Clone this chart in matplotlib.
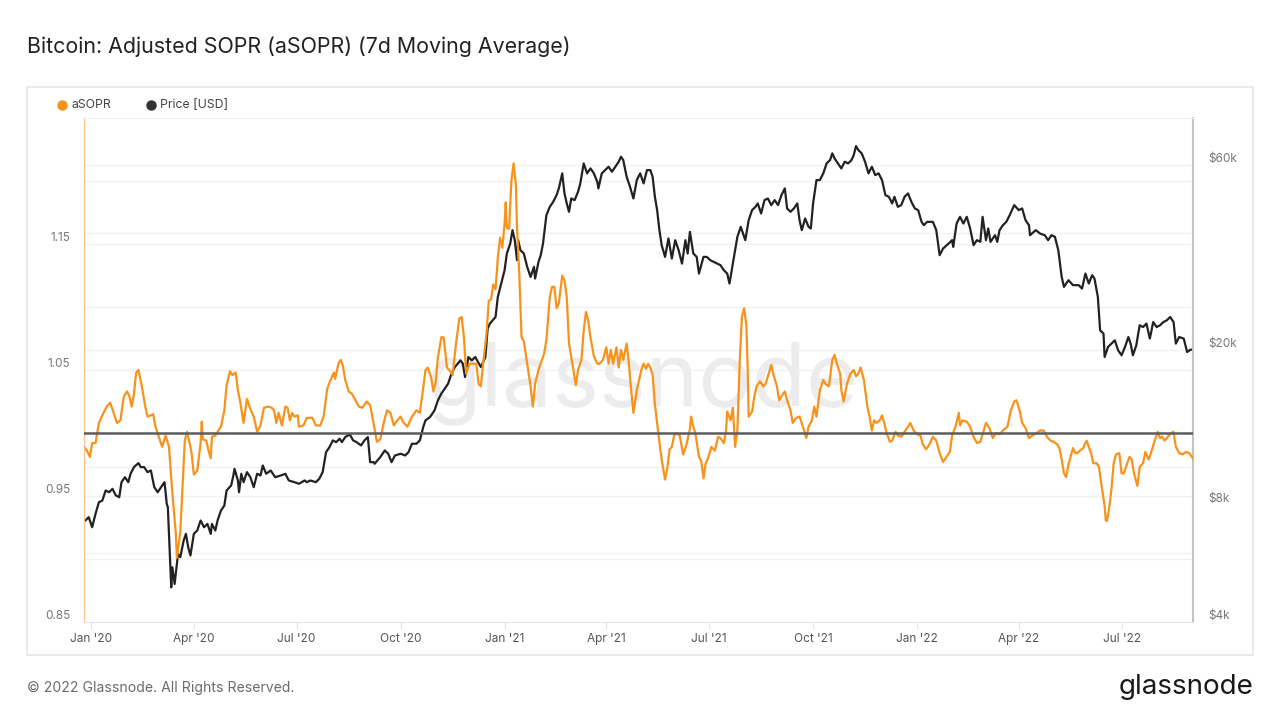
import numpy as np
import pandas as pd
import matplotlib
matplotlib.use("Agg")
import matplotlib.pyplot as plt
from matplotlib.transforms import blended_transform_factory, offset_copy
from matplotlib.ticker import NullLocator
from matplotlib.patches import Rectangle
from matplotlib.lines import Line2D

plt.rcParams['font.family'] = ['Inter', 'DejaVu Sans']

# ---------------- data ----------------
BASE_DATE = "2020-01-01"

# aSOPR (7d MA): day offset from BASE_DATE, value
sopr_day = [-6, -3, -1, 1, 4, 7, 10, 14, 17, 20, 23, 26, 29, 32, 34, 36, 38, 40, 42, 45, 48, 50, 53, 55, 57, 60,
            63, 66, 69, 72, 75, 76, 79, 81, 83, 85, 88, 89, 91, 94, 97, 98, 99, 102, 104, 106, 107, 110, 112, 115,
            118, 120, 123, 125, 128, 130, 132, 135, 138, 141, 144, 147, 150, 153, 157, 160, 162, 164, 166, 169, 172,
            174, 176, 178, 180, 183, 184, 188, 191, 196, 199, 203, 206, 209, 212, 215, 216, 219, 221, 223, 225, 228,
            231, 234, 237, 240, 244, 247, 250, 253, 256, 259, 262, 265, 268, 271, 274, 276, 280, 284, 288, 291, 293,
            296, 298, 301, 303, 305, 307, 310, 312, 315, 318, 320, 323, 326, 328, 330, 332, 335, 338, 341, 343, 345,
            347, 350, 352, 354, 356, 358, 360, 362, 364, 366, 367, 368, 370, 372, 374, 376, 377, 379, 381, 383, 386,
            389, 391, 393, 396, 399, 401, 403, 406, 408, 410, 412, 414, 417, 419, 421, 423, 426, 429, 431, 434, 436,
            438, 440, 442, 445, 448, 450, 453, 456, 458, 460, 462, 465, 467, 469, 471, 474, 476, 478, 480, 483, 487,
            489, 491, 493, 495, 497, 499, 502, 505, 508, 510, 512, 514, 516, 518, 521, 524, 527, 530, 531, 533, 535,
            538, 540, 542, 544, 546, 549, 552, 555, 557, 560, 562, 563, 566, 568, 570, 572, 574, 576, 578, 580, 581,
            582, 585, 587, 589, 592, 595, 597, 599, 602, 604, 607, 609, 611, 614, 616, 619, 621, 624, 627, 630, 633,
            635, 638, 640, 642, 645, 648, 650, 653, 656, 658, 660, 663, 664, 666, 669, 672, 675, 677, 679, 681, 684,
            687, 689, 691, 693, 695, 698, 700, 702, 704, 707, 709, 712, 714, 717, 720, 723, 725, 728, 731, 734, 736,
            739, 742, 745, 748, 751, 754, 757, 760, 762, 765, 768, 769, 771, 775, 778, 781, 784, 787, 790, 792, 795,
            798, 801, 804, 807, 811, 814, 817, 819, 822, 824, 827, 830, 833, 835, 840, 843, 846, 849, 852, 855, 857,
            859, 861, 863, 865, 869, 871, 873, 875, 878, 881, 883, 885, 887, 890, 892, 894, 897, 898, 899, 901, 903,
            905, 907, 910, 912, 914, 917, 919, 921, 923, 926, 928, 931, 933, 936, 939, 941, 944, 946, 948, 950, 953,
            956, 958, 960, 963, 966, 969, 972, 975]
sopr_value = [0.989, 0.985, 0.981, 0.992, 0.992, 1.008, 1.014, 1.021, 1.024, 1.016, 1.008, 1.010, 1.029, 1.033, 1.029,
              1.021, 1.031, 1.048, 1.050, 1.037, 1.021, 1.013, 1.014, 1.015, 1.005, 0.997, 0.989, 0.998, 0.989, 0.952,
              0.921, 0.901, 0.921, 0.958, 0.994, 1.001, 0.989, 0.984, 0.967, 0.970, 0.992, 1.009, 0.995, 0.994, 0.986,
              0.980, 0.997, 0.998, 1.001, 1.005, 1.018, 1.038, 1.049, 1.046, 1.048, 1.034, 1.025, 1.008, 1.027, 1.019,
              1.013, 1.001, 1.006, 1.020, 1.021, 1.020, 1.018, 1.008, 1.016, 1.006, 1.021, 1.020, 1.010, 1.016, 1.013,
              1.014, 1.005, 1.006, 1.012, 1.012, 1.006, 1.006, 1.014, 1.035, 1.042, 1.048, 1.043, 1.055, 1.058, 1.053,
              1.042, 1.033, 1.031, 1.026, 1.021, 1.020, 1.025, 1.022, 1.008, 0.993, 0.995, 1.008, 1.018, 1.016, 1.006,
              1.010, 1.013, 1.009, 1.005, 1.013, 1.018, 1.016, 1.029, 1.050, 1.052, 1.044, 1.033, 1.040, 1.060, 1.076,
              1.076, 1.052, 1.049, 1.046, 1.071, 1.091, 1.092, 1.076, 1.047, 1.055, 1.055, 1.055, 1.039, 1.037, 1.055,
              1.079, 1.105, 1.106, 1.118, 1.114, 1.139, 1.155, 1.147, 1.166, 1.183, 1.163, 1.162, 1.200, 1.214, 1.197,
              1.163, 1.126, 1.076, 1.073, 1.055, 1.037, 1.021, 1.039, 1.050, 1.058, 1.063, 1.074, 1.108, 1.116, 1.116,
              1.099, 1.103, 1.125, 1.121, 1.108, 1.071, 1.055, 1.038, 1.050, 1.058, 1.081, 1.096, 1.089, 1.076, 1.061,
              1.055, 1.055, 1.058, 1.068, 1.055, 1.066, 1.055, 1.068, 1.052, 1.066, 1.058, 1.071, 1.055, 1.034, 1.016,
              1.034, 1.050, 1.055, 1.051, 1.055, 1.052, 1.046, 1.023, 1.000, 0.979, 0.963, 0.972, 0.987, 0.989, 0.998,
              1.000, 0.998, 0.983, 0.991, 1.003, 1.013, 1.005, 0.999, 0.981, 0.978, 0.964, 0.976, 0.980, 0.989, 0.986,
              0.997, 0.996, 0.992, 1.002, 1.017, 1.010, 1.020, 0.989, 1.002, 1.055, 1.092, 1.099, 1.085, 1.055, 1.013,
              1.017, 1.029, 1.037, 1.041, 1.037, 1.039, 1.045, 1.054, 1.046, 1.037, 1.026, 1.029, 1.033, 1.026, 1.018,
              1.008, 1.012, 1.013, 1.005, 0.996, 1.005, 1.010, 1.021, 1.013, 1.034, 1.042, 1.039, 1.037, 1.058, 1.062,
              1.055, 1.047, 1.034, 1.025, 1.039, 1.047, 1.050, 1.045, 1.047, 1.052, 1.042, 1.021, 1.013, 1.002, 1.010,
              1.008, 1.010, 1.014, 1.008, 1.000, 0.993, 0.994, 1.001, 0.998, 0.997, 1.001, 1.005, 1.008, 1.002, 0.999,
              0.998, 0.991, 0.987, 0.991, 0.997, 0.994, 0.984, 0.977, 0.981, 0.985, 0.998, 1.005, 1.016, 1.006, 1.010,
              1.009, 1.005, 0.997, 0.992, 0.993, 1.002, 1.008, 1.004, 0.996, 1.000, 0.999, 1.002, 1.005, 1.018, 1.025,
              1.026, 1.017, 1.008, 1.004, 0.996, 0.998, 0.999, 1.002, 1.002, 0.997, 0.994, 0.993, 0.991, 0.988, 0.979,
              0.968, 0.965, 0.975, 0.988, 0.984, 0.984, 0.986, 0.988, 0.994, 0.989, 0.984, 0.976, 0.976, 0.973, 0.960,
              0.942, 0.931, 0.930, 0.940, 0.955, 0.976, 0.983, 0.984, 0.968, 0.968, 0.976, 0.981, 0.979, 0.968, 0.958,
              0.973, 0.976, 0.985, 0.979, 0.987, 0.993, 1.001, 0.996, 0.997, 0.994, 0.997, 1.000, 1.001, 0.989, 0.984,
              0.983, 0.985, 0.984, 0.980]

# Price [USD]: day offset from BASE_DATE, value
price_day = [-5, -2, 1, 4, 7, 10, 13, 16, 19, 22, 25, 27, 30, 33, 35, 38, 42, 44, 47, 50, 53, 56, 59, 62, 65, 66, 67,
             68, 71, 72, 74, 75, 77, 79, 82, 84, 86, 88, 91, 94, 97, 100, 103, 106, 107, 110, 112, 115, 118, 120, 124,
             126, 127, 130, 131, 133, 135, 138, 141, 144, 147, 150, 152, 155, 159, 163, 168, 172, 175, 180, 184, 189,
             191, 194, 199, 202, 205, 208, 211, 214, 217, 220, 222, 225, 229, 232, 235, 239, 242, 245, 247, 250, 251,
             256, 260, 263, 266, 269, 274, 278, 281, 284, 288, 291, 294, 296, 300, 304, 307, 310, 313, 316, 319, 322,
             327, 329, 331, 334, 337, 340, 345, 349, 351, 353, 358, 360, 363, 366, 368, 371, 373, 375, 377, 378, 380,
             383, 386, 387, 389, 392, 393, 396, 398, 400, 403, 406, 409, 412, 414, 417, 419, 421, 423, 425, 428, 431,
             433, 436, 439, 442, 445, 448, 449, 452, 455, 458, 461, 464, 467, 469, 471, 474, 477, 480, 483, 486, 489,
             492, 495, 497, 499, 501, 503, 505, 508, 511, 514, 517, 520, 523, 526, 528, 530, 533, 536, 538, 542, 545,
             548, 551, 554, 557, 560, 563, 565, 568, 572, 575, 579, 582, 585, 588, 590, 593, 596, 599, 602, 605, 608,
             611, 614, 616, 619, 622, 625, 627, 629, 632, 635, 637, 639, 642, 645, 648, 651, 654, 656, 658, 661, 664,
             667, 670, 673, 675, 677, 679, 682, 685, 688, 691, 694, 697, 700, 703, 706, 709, 711, 714, 717, 720, 723,
             726, 729, 732, 735, 737, 740, 745, 748, 751, 754, 759, 762, 763, 766, 769, 772, 775, 778, 781, 784, 787,
             789, 792, 794, 796, 800, 802, 804, 807, 810, 813, 817, 821, 824, 827, 830, 831, 836, 840, 844, 847, 850,
             853, 856, 859, 861, 865, 869, 874, 877, 880, 883, 886, 888, 891, 893, 896, 897, 900, 903, 906, 909, 912,
             915, 918, 920, 922, 925, 928, 931, 934, 937, 940, 943, 946, 949, 952, 955, 958, 960, 963, 967, 970, 973,
             975]
price_value = [7285, 7430, 7000, 7580, 8120, 8200, 8705, 8615, 8790, 8450, 8365, 9145, 9420, 9145, 9610, 10000, 10240,
               10000, 10000, 9705, 9800, 8875, 8615, 8875, 9145, 8615, 8045, 7885, 4900, 5520, 5000, 5307, 5975, 5860,
               6470, 6730, 6220, 5920, 6730, 6865, 7285, 7000, 7140, 6730, 7140, 6865, 7285, 7730, 7960, 8705, 8965,
               9515, 9900, 9237, 8616, 9612, 9145, 9705, 9420, 8875, 9612, 9515, 10097, 9612, 9800, 9420, 9515, 9612,
               9237, 9145, 9057, 9237, 9145, 9237, 9145, 9330, 9705, 10926, 11255, 11715, 11597, 11835, 11597, 11950,
               12140, 11715, 11597, 11370, 11715, 11950, 10297, 10300, 10200, 10612, 11040, 10825, 10297, 10715, 10825,
               10715, 10926, 11485, 11485, 11715, 12680, 13195, 13455, 14000, 14855, 15460, 15922, 16402, 17405, 18100,
               18836, 18475, 17060, 19215, 18836, 19215, 18100, 19215, 22740, 23430, 24360, 27440, 29710, 32150, 35500,
               37670, 40770, 38420, 34120, 38420, 36200, 35500, 32800, 32150, 30900, 32800, 30600, 33790, 35150, 37670,
               44570, 46820, 48230, 50180, 52220, 57100, 50700, 47780, 45460, 49200, 48720, 51200, 53800, 60580, 57100,
               58800, 57100, 54330, 52220, 57100, 58220, 59390, 57650, 59390, 61180, 63030, 61780, 55960, 52720, 49200,
               54870, 57100, 53800, 58220, 58220, 55960, 49700, 45910, 40770, 37300, 34790, 38820, 34460, 38420, 36200,
               33440, 38420, 35500, 40360, 35500, 34790, 31520, 34790, 34790, 34120, 33790, 33440, 33130, 32150, 31520,
               29710, 33440, 39190, 41580, 38420, 43260, 45910, 46820, 47780, 45020, 48720, 49200, 47300, 48720, 47300,
               50180, 52220, 46380, 45460, 46380, 47780, 43260, 40770, 43700, 41580, 41180, 47780, 54870, 54870, 57100,
               60580, 61780, 64300, 62400, 60580, 58800, 61180, 60580, 61780, 63660, 67140, 65580, 64300, 61180, 57100,
               59390, 56520, 57100, 54870, 50180, 49700, 47780, 49700, 46820, 47300, 49700, 50700, 48230, 46380, 45910,
               42830, 42000, 42830, 42830, 40770, 35150, 36560, 37670, 38420, 36920, 42400, 44130, 42400, 44130, 41180,
               37300, 38420, 38040, 44130, 38420, 41180, 38040, 39570, 38040, 40770, 42000, 42830, 44570, 47300, 45910,
               46380, 43260, 42000, 39570, 40770, 39940, 39570, 38420, 39570, 39190, 36200, 30900, 29120, 30300, 29420,
               29420, 28840, 31520, 29710, 31220, 30600, 27440, 22510, 22080, 19215, 20390, 20800, 21210, 19980, 19410,
               20390, 21630, 20800, 19410, 20590, 23190, 22950, 23430, 21430, 23640, 22950, 23190, 23640, 23880, 24360,
               23640, 20800, 21630, 21430, 19790, 20070, 20070]

sopr_tick_values = [0.85, 0.95, 1.05, 1.15]
sopr_tick_labels = ["0.85", "0.95", "1.05", "1.15"]
price_tick_values = [4000, 8000, 20000, 60000]
price_tick_labels = ["$4k", "$8k", "$20k", "$60k"]
x_tick_dates = ["2020-01-01", "2020-04-01", "2020-07-01", "2020-10-01", "2021-01-01", "2021-04-01",
                "2021-07-01", "2021-10-01", "2022-01-01", "2022-04-01", "2022-07-01"]
x_tick_labels = ["Jan '20", "Apr '20", "Jul '20", "Oct '20", "Jan '21", "Apr '21",
                 "Jul '21", "Oct '21", "Jan '22", "Apr '22", "Jul '22"]

TITLE = "Bitcoin: Adjusted SOPR (aSOPR) (7d Moving Average)"

# ---------------- style ----------------
ORANGE = "#f7931a"
BLACK = "#222222"
W, H = 1280, 720

base = pd.Timestamp(BASE_DATE)
sopr_dates = base + pd.to_timedelta(sopr_day, unit="D")
price_dates = base + pd.to_timedelta(price_day, unit="D")

fig = plt.figure(figsize=(W / 100, H / 100), dpi=100)
fig.patch.set_facecolor("white")

# card frame
fig.patches.append(Rectangle((27 / W, 1 - 655 / H), (1253 - 27) / W, (655 - 87) / H,
                             transform=fig.transFigure, fill=False, edgecolor="#e8e8e8", lw=1.2))

# title
fig.text(27 / W, 1 - 47 / H, TITLE, fontsize=15.4, color="#222222", ha="left", va="center")

# legend
fig.add_artist(Line2D([62 / W], [1 - 105 / H], marker="o", ms=6.5, color=ORANGE, lw=0,
                      transform=fig.transFigure))
fig.text(72 / W, 1 - 105 / H, "aSOPR", fontsize=8.8, color="#444444", ha="left", va="center")
fig.add_artist(Line2D([151 / W], [1 - 105 / H], marker="o", ms=6.5, color="#333333", lw=0,
                      transform=fig.transFigure))
fig.text(160 / W, 1 - 105 / H, "Price [USD]", fontsize=8.8, color="#444444", ha="left", va="center")

# axes
L, R, T, B = 84, 1193, 118, 622
ax = fig.add_axes([L / W, 1 - B / H, (R - L) / W, (B - T) / H])
ax2 = ax.twinx()
ax2.set_yscale("log")
ax.set_zorder(ax2.get_zorder() + 1)
ax.patch.set_visible(False)
ax2.patch.set_visible(False)

ax.set_xlim(base + pd.Timedelta(days=-6.2), base + pd.Timedelta(days=975.2))
ax.set_ylim(0.85, 1.25)
ax2.set_ylim(3990, 79300)

# gridlines (drawn on lower axes)
grid_kw = dict(color="#f1f1f1", lw=1.0, zorder=0)
for v in [0.9, 0.95, 1.05, 1.1, 1.15, 1.2]:
    ax2.plot([0, 1], [v, v], transform=blended_transform_factory(ax2.transAxes, ax.transData), **grid_kw)
for p in [6000, 10000, 20000, 40000, 60000]:
    ax2.axhline(p, **grid_kw)

# watermark
ax2.text(0.504, 0.43, "glassnode", transform=ax2.transAxes, fontsize=64, color="#ececec",
         ha="center", va="baseline", zorder=0.5)

# series
ax2.plot(price_dates, price_value, color=BLACK, lw=1.6, zorder=2, solid_joinstyle="round")
ax.plot(sopr_dates, sopr_value, color=ORANGE, lw=1.6, zorder=2, solid_joinstyle="round")
ax.axhline(1.0, color="#5c5c5c", lw=1.8, zorder=3)

# spines
ax.spines["right"].set_visible(False)
ax.spines["left"].set_color("#fbc48a")
ax.spines["left"].set_linewidth(1.0)
ax.spines["top"].set_color("#eeeeee")
ax.spines["bottom"].set_color("#e6e6e6")
for s in ["left", "top", "bottom"]:
    ax2.spines[s].set_visible(False)
ax2.spines["right"].set_color("#c4c4c4")
ax2.spines["right"].set_linewidth(1.5)

# y ticks: manual labels just above their gridlines
ax.set_yticks([])
ax2.set_yticks([])
ax2.yaxis.set_minor_locator(NullLocator())
lt = offset_copy(blended_transform_factory(ax.transAxes, ax.transData), fig=fig, x=-14, y=6, units="dots")
for v, lab in zip(sopr_tick_values, sopr_tick_labels):
    ax.text(0, v, lab, transform=lt, ha="right", va="center", fontsize=8.5, color="#777777")
rt = offset_copy(blended_transform_factory(ax2.transAxes, ax2.transData), fig=fig, x=15, y=6, units="dots")
for p, lab in zip(price_tick_values, price_tick_labels):
    ax2.text(1, p, lab, transform=rt, ha="left", va="center", fontsize=8.5, color="#777777")

# x ticks
ax.set_xticks(pd.to_datetime(x_tick_dates))
ax.set_xticklabels(x_tick_labels)
ax.tick_params(axis="x", length=5, color="#e3e3e3", labelcolor="#555555", labelsize=8.5, pad=3)
ax2.tick_params(axis="x", length=0)

# footer
fig.text(27 / W, 1 - 688 / H, "\u00a9 2022 Glassnode. All Rights Reserved.", fontsize=10.1,
         color="#6b6b6b", ha="left", va="center")
fig.text(1253 / W, 1 - 687 / H, "glassnode", fontsize=20, color="#1a1a1a", ha="right", va="center")

fig.savefig("out.png", dpi=100, facecolor="white")
